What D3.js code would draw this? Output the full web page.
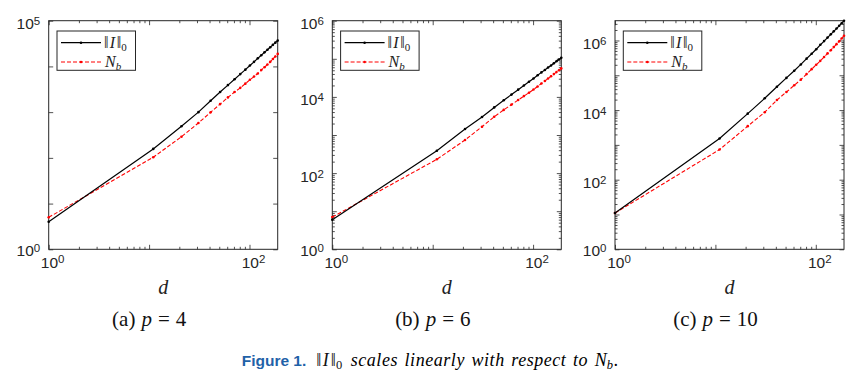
<!DOCTYPE html>
<html><head><meta charset="utf-8">
<script src="https://cdn.jsdelivr.net/npm/d3@7"></script>
<style>body{margin:0;background:#fff}svg{display:block}</style>
</head><body>
<svg id="fig" width="860" height="383"></svg>
<script>
// ---- data ----
const dValues = [1,11,21,31,41,51,61,71,81,91,101,111,121,131,141,151,161,171,181,191];
const normI_p4 = [4,157,490,1000,1780,2750,3900,5250,6800,8500,10500,12600,15000,17600,20300,23200,26300,29600,33100,36700];
const Nb_p4    = [5,103,290,580,990,1500,2100,2750,3400,4200,5100,6000,7000,8300,9600,11000,12600,14500,16500,18800];
const normI_p6 = [6,385,1440,2970,5300,8200,11500,15500,20000,25000,30500,37000,44000,51000,59000,67000,76000,86000,96000,107000];
const Nb_p6    = [7,230,740,1650,3000,4560,6280,8280,10500,12900,15600,18800,22400,26200,30400,34900,39700,44800,50200,55900];
const normI_p10 = [11,1520,7900,21800,47000,84000,135000,205000,300000,415000,560000,750000,960000,1210000,1500000,1830000,2200000,2640000,3140000,3700000];
const Nb_p10    = [11,734,3450,8700,19500,33000,51500,75000,108000,150000,200000,260000,335000,425000,525000,645000,785000,945000,1135000,1370000];
const pValues = [4, 6, 10];
const panelLetters = ["a", "b", "c"];
const yTopValues = [1e5, 1e6, null];          // null = tight to data
const yLabelExps = [[0,5],[0,2,4,6],[0,2,4,6]];
const xLabelExps = [0, 2];
const yMinorTicks = [false, true, true];

const normISeries = [normI_p4, normI_p6, normI_p10];
const NbSeries = [Nb_p4, Nb_p6, Nb_p10];

// ---- layout ----
const svg = d3.select("#fig");
const lefts = [48.7, 332.3, 615];
const plotTop = 20.7, W = 229, H = 228.6;
const axisColor = "#262626";
const sans = "'Liberation Sans', Arial, Helvetica, sans-serif";
const serif = "'Liberation Serif', 'Times New Roman', serif";

function supLabel(sel, exp, fs, ss, raise) {
  sel.append("tspan").text("10").attr("font-size", fs);
  sel.append("tspan").text(String(exp)).attr("font-size", ss).attr("dy", -raise);
}
function normText(sel, fs, ss, gap) {
  sel.append("tspan").text("\u2016");
  sel.append("tspan").text("I").attr("font-style", "italic").attr("dx", gap);
  sel.append("tspan").text("\u2016").attr("dx", gap + 0.5);
  sel.append("tspan").text("0").attr("font-size", ss).attr("dy", 3);
}

pValues.forEach((p, i) => {
  const L = lefts[i];
  const g = svg.append("g").attr("transform", `translate(${L},${plotTop})`);
  const dataI = dValues.map((d, k) => ({d, v: normISeries[i][k]}));
  const dataN = dValues.map((d, k) => ({d, v: NbSeries[i][k]}));
  const x = d3.scaleLog().domain([1, d3.max(dValues)]).range([0, W]);
  const yTop = yTopValues[i] || d3.max(normISeries[i]);
  const y = d3.scaleLog().domain([1, yTop]).range([H, 0]);

  // x ticks
  const xMajor = [1, 10, 100];
  const xMinor = [];
  [1, 10, 100].forEach(b => { for (let m = 2; m <= 9; m++) if (b*m <= d3.max(dValues)) xMinor.push(b*m); });
  const mkAxis = (gen, vals, size, tr) => {
    const a = g.append("g").attr("transform", tr)
      .call(gen.tickValues(vals).tickSize(size).tickSizeOuter(0).tickFormat(""));
    a.select(".domain").remove();
    a.selectAll("line").attr("stroke", axisColor).attr("stroke-width", 0.8);
  };
  mkAxis(d3.axisBottom(x), xMajor, -4.5, `translate(0,${H})`);
  mkAxis(d3.axisBottom(x), xMinor, -2.5, `translate(0,${H})`);
  mkAxis(d3.axisTop(x), xMajor, -4.5, `translate(0,0)`);
  mkAxis(d3.axisTop(x), xMinor, -2.5, `translate(0,0)`);

  // y ticks
  const nDec = Math.floor(Math.log10(yTop) + 1e-9);
  const yMajor = d3.range(0, nDec + 1).map(e => Math.pow(10, e));
  const yMinor = [];
  if (yMinorTicks[i]) yMajor.forEach(b => { for (let m = 2; m <= 9; m++) if (b*m <= yTop) yMinor.push(b*m); });
  mkAxis(d3.axisLeft(y), yMajor, -4.5, `translate(0,0)`);
  mkAxis(d3.axisRight(y), yMajor, -4.5, `translate(${W},0)`);
  if (yMinor.length) {
    mkAxis(d3.axisLeft(y), yMinor, -2.5, `translate(0,0)`);
    mkAxis(d3.axisRight(y), yMinor, -2.5, `translate(${W},0)`);
  }

  // frame
  g.append("rect").attr("x", 0).attr("y", 0).attr("width", W).attr("height", H)
    .attr("fill", "none").attr("stroke", axisColor).attr("stroke-width", 1);

  // tick labels
  xLabelExps.forEach(e => {
    const t = g.append("text").attr("x", x(Math.pow(10, e)) + 4).attr("y", H + 18.5)
      .attr("text-anchor", "middle").attr("font-family", sans).attr("fill", axisColor);
    supLabel(t, e, 15.5, 11.5, 5);
  });
  yLabelExps[i].forEach(e => {
    const t = g.append("text").attr("x", -8.5).attr("y", y(Math.pow(10, e)) + (e === 0 ? 6.5 : 8.5))
      .attr("text-anchor", "end").attr("font-family", sans).attr("fill", axisColor);
    supLabel(t, e, 15.5, 11.5, 4);
  });

  // lines
  const line = d3.line().x(d => x(d.d)).y(d => y(d.v));
  g.append("path").datum(dataN).attr("d", line).attr("fill", "none")
    .attr("stroke", "#ff0000").attr("stroke-width", 1.1).attr("stroke-dasharray", "4,2");
  g.selectAll(".mN").data(dataN).join("circle").attr("cx", d => x(d.d)).attr("cy", d => y(d.v))
    .attr("r", 1.3).attr("fill", "#ff0000");
  g.append("path").datum(dataI).attr("d", line).attr("fill", "none")
    .attr("stroke", "#000").attr("stroke-width", 1.2);
  g.selectAll(".mI").data(dataI).join("circle").attr("cx", d => x(d.d)).attr("cy", d => y(d.v))
    .attr("r", 1.3).attr("fill", "#000");

  // legend
  const lg = g.append("g").attr("transform", "translate(8.3,10.3)");
  lg.append("rect").attr("width", 78.5).attr("height", 39.3).attr("fill", "#fff")
    .attr("stroke", axisColor).attr("stroke-width", 1);
  const rows = [{y: 11.7, color: "#000", dash: null}, {y: 31, color: "#ff0000", dash: "4,2"}];
  rows.forEach((r, k) => {
    lg.append("line").attr("x1", 4).attr("x2", 44).attr("y1", r.y).attr("y2", r.y)
      .attr("stroke", r.color).attr("stroke-width", k ? 1.1 : 1.2).attr("stroke-dasharray", r.dash);
    lg.append("circle").attr("cx", 24).attr("cy", r.y).attr("r", 1.3).attr("fill", r.color);
  });
  const t1 = lg.append("text").attr("x", 47).attr("y", 16.5).attr("font-family", serif)
    .attr("font-size", 16).attr("fill", "#222");
  normText(t1, 16, 11, 1.2);
  const t2 = lg.append("text").attr("x", 48).attr("y", 35.5).attr("font-family", serif)
    .attr("font-size", 16).attr("fill", "#222");
  t2.append("tspan").text("N").attr("font-style", "italic");
  t2.append("tspan").text("b").attr("font-style", "italic").attr("font-size", 11).attr("dy", 3);

  // x label
  g.append("text").attr("x", W / 2).attr("y", H + 45).attr("text-anchor", "middle")
    .attr("font-family", serif).attr("font-style", "italic").attr("font-size", 20).attr("fill", "#222").text("d");

  // sub caption
  const c = svg.append("text").attr("x", L + W / 2 - 14).attr("y", 325.5).attr("text-anchor", "middle")
    .attr("font-family", serif).attr("font-size", 21).attr("fill", "#111");
  c.append("tspan").text(`(${panelLetters[i]})`);
  c.append("tspan").text("p").attr("font-style", "italic").attr("dx", 6);
  c.append("tspan").text("=").attr("dx", 6);
  c.append("tspan").text(String(p)).attr("dx", 6);
});

// figure caption
const cap = svg.append("text").attr("x", 241.7).attr("y", 365.5);
cap.append("tspan").text("Figure 1.").attr("font-family", sans).attr("font-weight", "bold")
  .attr("font-size", 15.5).attr("fill", "#1f62a8");
const capBody = cap.append("tspan").attr("font-family", serif).attr("font-size", 18).attr("fill", "#111").attr("dx", 10);
normText(capBody, 18, 12.5, 1.5);
cap.append("tspan").text(" scales linearly with respect to ").attr("font-family", serif).attr("font-size", 18)
  .attr("font-style", "italic").attr("dy", -3).attr("dx", 2).attr("letter-spacing", 0.55).attr("word-spacing", 1.5);
cap.append("tspan").text("N").attr("font-family", serif).attr("font-size", 18).attr("font-style", "italic");
cap.append("tspan").text("b").attr("font-family", serif).attr("font-size", 12.5).attr("font-style", "italic").attr("dy", 3);
cap.append("tspan").text(".").attr("font-family", serif).attr("font-size", 18).attr("font-style", "italic").attr("dy", -3).attr("dx", 1);
</script>
</body></html>
